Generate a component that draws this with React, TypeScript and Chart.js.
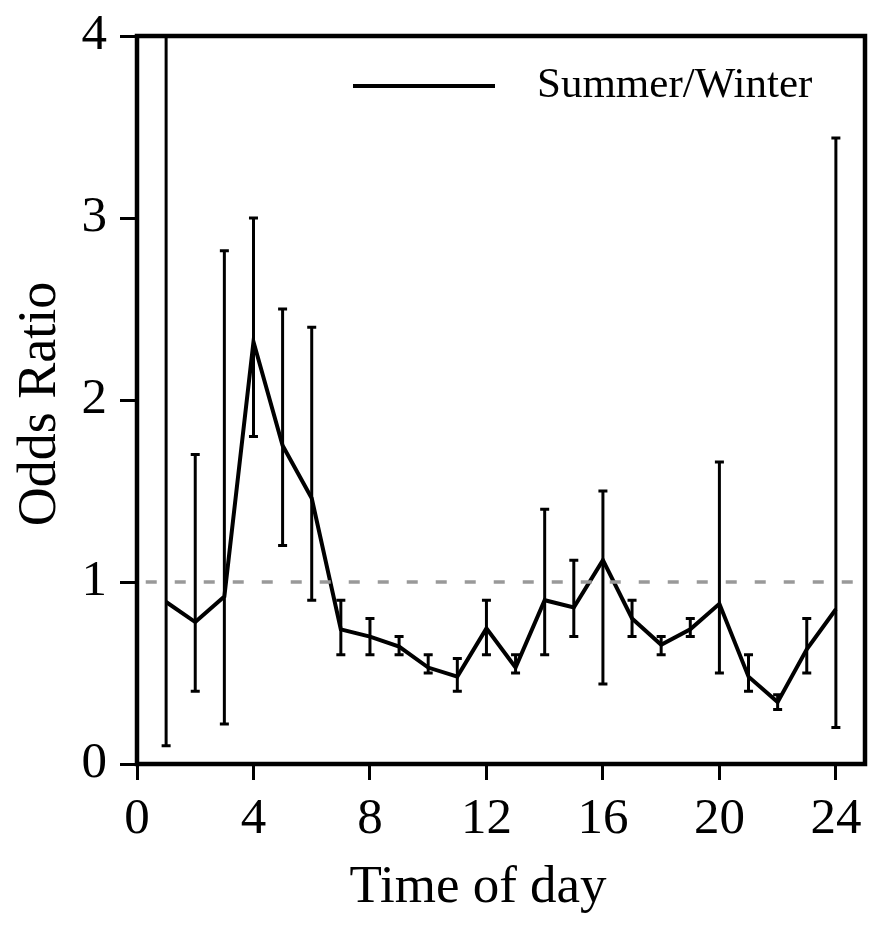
import React, { useEffect, useRef } from "react";
import { Chart, registerables } from "chart.js";

Chart.register(...registerables);

// ---- data ----
const hours = [1, 2, 3, 4, 5, 6, 7, 8, 9, 10, 11, 12, 13, 14, 15, 16, 17, 18, 19, 20, 21, 22, 23, 24];
const oddsRatio = [0.89, 0.78, 0.92, 2.32, 1.75, 1.46, 0.74, 0.70, 0.645, 0.53, 0.48, 0.745, 0.53, 0.90, 0.86, 1.12, 0.80, 0.655, 0.74, 0.88, 0.48, 0.34, 0.63, 0.85];
const lowerCI = [0.10, 0.40, 0.22, 1.80, 1.20, 0.90, 0.60, 0.60, 0.60, 0.50, 0.40, 0.60, 0.50, 0.60, 0.70, 0.44, 0.70, 0.60, 0.70, 0.50, 0.40, 0.30, 0.50, 0.20];
const upperCI = [4.30, 1.70, 2.82, 3.00, 2.50, 2.40, 0.90, 0.80, 0.70, 0.60, 0.58, 0.90, 0.60, 1.40, 1.12, 1.50, 0.90, 0.70, 0.80, 1.66, 0.60, 0.38, 0.80, 3.44];
const referenceLine = [
  { x: 0.3, y: 1 },
  { x: 25, y: 1 },
];
const xRange = [0, 25];
const xStep = 4;
const yRange = [0, 4];
const yStep = 1;
const seriesLabel = "Summer/Winter";
const xTitle = "Time of day";
const yTitle = "Odds Ratio";

const FONT = "'Liberation Serif', 'Times New Roman', Times, serif";

const errorBarPlugin = {
  id: "errorBars",
  afterDatasetsDraw(chart: any) {
    const { ctx, chartArea, scales } = chart;
    const xs = scales.x;
    const ys = scales.y;
    ctx.save();
    ctx.beginPath();
    ctx.rect(chartArea.left, chartArea.top, chartArea.right - chartArea.left, chartArea.bottom - chartArea.top);
    ctx.clip();
    ctx.strokeStyle = "#000";
    ctx.lineCap = "butt";
    hours.forEach((h, i) => {
      const x = xs.getPixelForValue(h);
      const yl = ys.getPixelForValue(lowerCI[i]);
      const yh = ys.getPixelForValue(upperCI[i]);
      ctx.lineWidth = 3;
      ctx.beginPath();
      ctx.moveTo(x, yl);
      ctx.lineTo(x, yh);
      ctx.stroke();
      ctx.lineWidth = 3;
      ctx.beginPath();
      ctx.moveTo(x - 4.5, yl);
      ctx.lineTo(x + 4.5, yl);
      ctx.moveTo(x - 4.5, yh);
      ctx.lineTo(x + 4.5, yh);
      ctx.stroke();
    });
    ctx.restore();

    // frame
    ctx.save();
    ctx.strokeStyle = "#000";
    ctx.lineWidth = 4.5;
    ctx.strokeRect(chartArea.left, chartArea.top, chartArea.right - chartArea.left, chartArea.bottom - chartArea.top);
    ctx.restore();
  },
  afterDraw(chart: any) {
    const { ctx } = chart;
    ctx.save();
    ctx.fillStyle = "#000";
    // legend
    ctx.strokeStyle = "#000";
    ctx.lineWidth = 4;
    ctx.beginPath();
    ctx.moveTo(345, 78);
    ctx.lineTo(487, 78);
    ctx.stroke();
    ctx.font = `43px ${FONT}`;
    ctx.textAlign = "left";
    ctx.textBaseline = "alphabetic";
    ctx.fillText(seriesLabel, 529, 89);
    // x title
    ctx.font = `53px ${FONT}`;
    ctx.textAlign = "center";
    ctx.fillText(xTitle, 470, 894);
    // y title
    ctx.font = `54px ${FONT}`;
    ctx.translate(47, 396);
    ctx.rotate(-Math.PI / 2);
    ctx.textAlign = "center";
    ctx.fillText(yTitle, 0, 0);
    ctx.restore();
  },
};

export default function App() {
  const ref = useRef<HTMLCanvasElement | null>(null);
  useEffect(() => {
    if (!ref.current) return;
    const chart = new Chart(ref.current, {
      type: "line",
      data: {
        datasets: [
          {
            label: "ref",
            data: referenceLine,
            borderColor: "#999999",
            borderWidth: 3.5,
            borderDash: [11, 18],
            pointRadius: 0,
            fill: false,
          },
          {
            label: seriesLabel,
            data: hours.map((h, i) => ({ x: h, y: oddsRatio[i] })),
            borderColor: "#000000",
            borderWidth: 4,
            pointRadius: 0,
            tension: 0,
            fill: false,
          },
        ],
      },
      options: {
        animation: false,
        responsive: false,
        devicePixelRatio: 1,
        layout: { padding: { left: 0, top: 28, right: 11, bottom: 0 } },
        plugins: { legend: { display: false }, tooltip: { enabled: false } },
        scales: {
          x: {
            type: "linear",
            min: xRange[0],
            max: xRange[1],
            ticks: {
              stepSize: xStep,
              includeBounds: false,
              autoSkip: false,
              maxRotation: 0,
              color: "#000",
              padding: 9,
              font: { family: FONT, size: 51 },
            },
            grid: {
              drawOnChartArea: false,
              drawTicks: true,
              tickLength: 16,
              tickWidth: 3,
              tickColor: "#000",
              color: "#000",
            },
            border: { display: false },
            afterFit: (s: any) => {
              s.height = 158;
              s.paddingLeft = 0;
              s.paddingRight = 0;
            },
          },
          y: {
            type: "linear",
            min: yRange[0],
            max: yRange[1],
            ticks: {
              stepSize: yStep,
              color: "#000",
              padding: 13,
              font: { family: FONT, size: 51 },
            },
            grid: {
              drawOnChartArea: false,
              drawTicks: true,
              tickLength: 17,
              tickWidth: 3,
              tickColor: "#000",
              color: "#000",
            },
            border: { display: false },
            afterFit: (s: any) => {
              s.width = 129;
              s.paddingTop = 0;
              s.paddingBottom = 0;
            },
          },
        },
      },
      plugins: [errorBarPlugin],
    } as any);
    return () => chart.destroy();
  }, []);
  return (
    <div style={{ width: 868, height: 914 }}>
      <canvas ref={ref} width={868} height={914} style={{ display: "block" }} />
    </div>
  );
}
